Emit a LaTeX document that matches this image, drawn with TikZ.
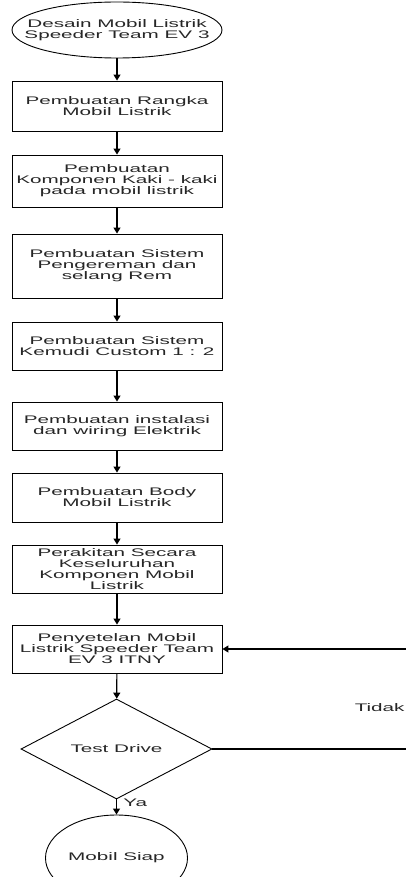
\documentclass[tikz,border=0pt]{standalone}
\usepackage{fontspec}
\usetikzlibrary{shapes.geometric,arrows.meta}
\newfontfamily\alurfont[FakeStretch=1.88]{Liberation Sans}
\tikzset{
  teks/.style={font=\alurfont\fontsize{11}{11}\selectfont, text=black!85, align=center, inner sep=0pt},
  proses/.style={teks, draw, rectangle, minimum width=210pt},
  mulai/.style={draw, ellipse, inner sep=0pt},
  keputusan/.style={teks, draw, diamond, minimum width=191pt, minimum height=88pt},
  panah/.style={-{Triangle[width=7pt,length=6pt]}, line width=1.2pt}
}
\begin{document}
\begin{tikzpicture}[x=1pt,y=-1pt,line width=0.9pt]
\useasboundingbox (0,0) rectangle (405,877);
% awal
\node[mulai, minimum width=210pt, minimum height=56pt] (desain) at (117,30) {};
\node[teks] (desainteks) at (desain) {Desain Mobil Listrik\\Speeder Team EV 3};
% tahap pembuatan
\node[proses, minimum height=50pt] (rangka) at (117,106) {Pembuatan Rangka\\Mobil Listrik};
\node[proses, minimum height=52pt] (kaki) at (117,181) {Pembuatan\\Komponen Kaki - kaki\\pada mobil listrik};
\node[proses, minimum height=64pt] (rem) at (117,266) {Pembuatan Sistem\\Pengereman dan\\selang Rem};
\node[proses, minimum height=48pt] (kemudi) at (117,346) {Pembuatan Sistem\\Kemudi Custom 1 : 2};
\node[proses, minimum height=48pt] (wiring) at (117,426) {Pembuatan instalasi\\dan wiring Elektrik};
\node[proses, minimum height=49pt] (body) at (117,497.5) {Pembuatan Body\\Mobil Listrik};
\node[proses, minimum height=48pt] (rakit) at (117,569) {Perakitan Secara\\Keseluruhan\\Komponen Mobil\\Listrik};
\node[proses, minimum height=48pt] (setel) at (117,649) {Penyetelan Mobil\\Listrik Speeder Team\\EV 3 ITNY};
% uji dan akhir
\node[keputusan] (test) at (116.5,749) {Test Drive};
\node[mulai, minimum width=142pt, minimum height=86pt] (siap) at (116.5,858) {};
\node[teks] (siapteks) at (siap) {Mobil Siap};
\coordinate (balik) at (412,749);
% panah
\draw[panah] (desain) -- (rangka);
\draw[panah] (rangka) -- (kaki);
\draw[panah] (kaki) -- (rem);
\draw[panah] (rem) -- (kemudi);
\draw[panah] (kemudi) -- (wiring);
\draw[panah] (wiring) -- (body);
\draw[panah] (body) -- (rakit);
\draw[panah] (rakit) -- (setel);
\draw[panah] (setel) -- (test);
\draw[panah] (test) -- (siap);
\draw[panah] (test.east) -- (balik) |- (setel.east);
% label
\node[teks, anchor=east] (tidak) at (405,708) {Tidak};
\node[teks, anchor=west] (ya) at (123,803) {Ya};
\end{tikzpicture}
\end{document}
